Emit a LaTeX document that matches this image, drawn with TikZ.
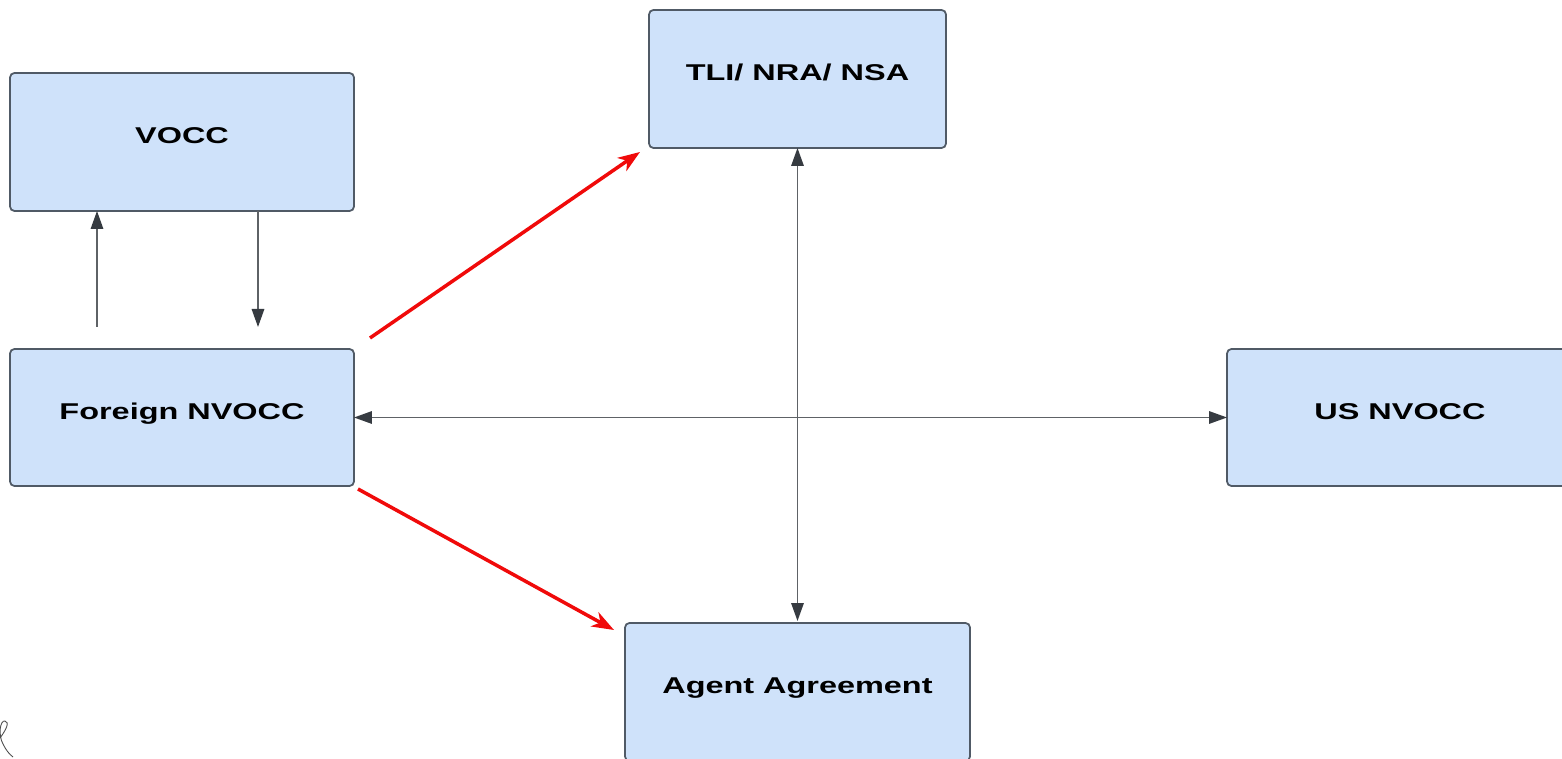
\documentclass[tikz,border=0pt]{standalone}
\usepackage{fontspec}
\newfontfamily\boxfont{Liberation Sans}[FakeStretch=1.42]
\usetikzlibrary{arrows.meta}
\definecolor{boxfill}{HTML}{CFE2FA}
\definecolor{boxline}{HTML}{505A66}
\definecolor{linkgray}{HTML}{5E6266}
\definecolor{tipgray}{HTML}{363B41}
\definecolor{linkred}{HTML}{F00A0A}
\tikzset{
  entity/.style={draw=boxline, fill=boxfill, line width=1pt, rounded corners=2.5pt,
    outer sep=0pt, inner sep=0pt, minimum height=2.76cm,
    font=\boxfont\bfseries\fontsize{13}{15}\selectfont,
    text height=9.2pt, text depth=7.4pt},
  link/.style={draw=linkgray, line width=0.85pt},
  gtip/.tip={Triangle[length=0.36cm, width=0.25cm, fill=tipgray, color=tipgray]},
  redlink/.style={draw=linkred, line width=2pt, -{Stealth[length=0.44cm, width=0.32cm, inset=0.13cm]}},
}
\begin{document}
\begin{tikzpicture}[x=0.02cm, y=-0.02cm]
  \useasboundingbox (0,0) rectangle (1562,759);
  \begin{scope}
    \clip (0,0) rectangle (1562,759);
    % boxes
    \node[entity, minimum width=6.88cm] (vocc) at (182,142) {VOCC};
    \node[entity, minimum width=5.94cm] (tli) at (797.5,79) {TLI/ NRA/ NSA};
    \node[entity, minimum width=6.88cm, minimum height=2.74cm] (fn) at (182,417.5) {Foreign NVOCC};
    \node[entity, minimum width=6.92cm, minimum height=2.74cm] (us) at (1400,417.5) {US NVOCC};
    \node[entity, minimum width=6.9cm] (ag) at (797.5,692) {Agent Agreement};
  \end{scope}

  % free ends of the VOCC links
  \coordinate (up) at (97,327);
  \coordinate (down) at (258,327);
  \draw[link, -{gtip}] (up) -- (up |- vocc.south);
  \draw[link, -{gtip}] (down |- vocc.south) -- (down);

  % main cross
  \draw[link, {gtip}-{gtip}] (fn.east) -- (us.west);
  \draw[link, {gtip}-{gtip}] (tli.south) -- ([yshift=0.04cm]ag.north);

  % red links
  \coordinate (r1s) at (370,338);
  \coordinate (r1e) at (640,152);
  \coordinate (r2s) at (358,489);
  \coordinate (r2e) at (614,630);
  \draw[redlink] (r1s) -- (r1e);
  \draw[redlink] (r2s) -- (r2e);

  % clipped mark in the lower left corner
  \draw[black!70, line width=0.5pt] (0,738) .. controls (6,730) and (10,722) .. (5,721)
    .. controls (0,720) and (-2,735) .. (3,744) .. controls (6,750) and (9,754) .. (13,757);
\end{tikzpicture}
\end{document}
